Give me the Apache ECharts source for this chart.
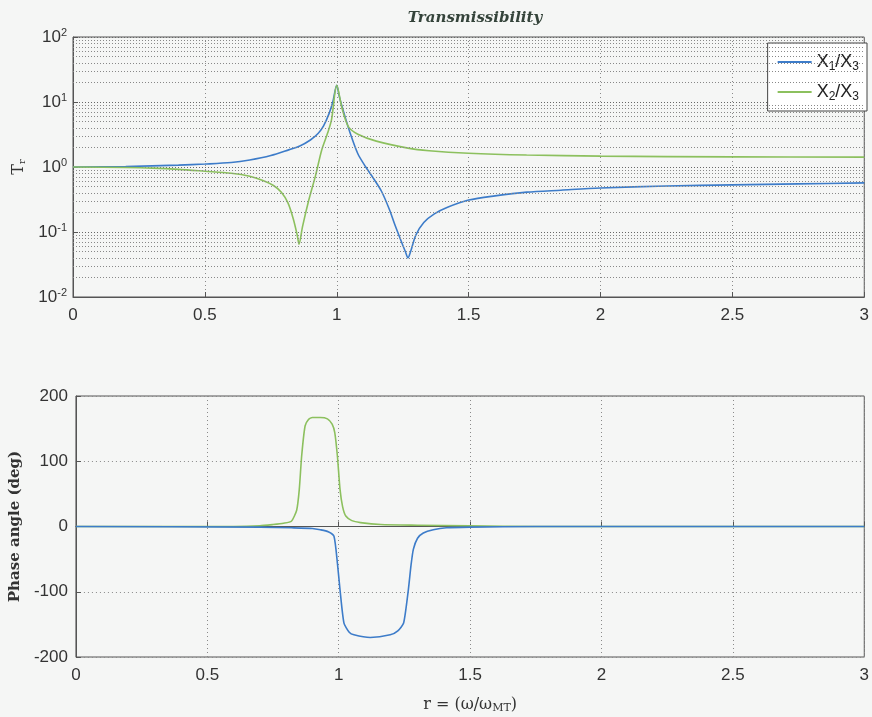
<!DOCTYPE html>
<html>
<head>
<meta charset="utf-8">
<script src="https://cdn.jsdelivr.net/npm/echarts@6/dist/echarts.min.js"></script>
<style>
  html, body { margin: 0; padding: 0; background: #f5f6f5; }
  #chart { width: 872px; height: 717px; }
</style>
</head>
<body>
<div id="chart"></div>
<script>
// magnitude (transmissibility)
const blueMagX = [0, 0.2, 0.4, 0.5, 0.6, 0.67, 0.75, 0.82, 0.86, 0.9, 0.93, 0.95, 0.97, 0.985, 1.0, 1.01, 1.02, 1.03, 1.05, 1.08, 1.11, 1.14, 1.17, 1.2, 1.22, 1.24, 1.26, 1.27, 1.28, 1.3, 1.33, 1.37, 1.42, 1.5, 1.6, 1.72, 1.85, 2.0, 2.25, 2.5, 2.75, 3.0];
const blueMagY = [1.0, 1.02, 1.07, 1.11, 1.17, 1.28, 1.5, 1.85, 2.1, 2.6, 3.3, 4.3, 6.5, 10, 18, 12, 8.5, 6.2, 3.4, 1.6, 1.0, 0.66, 0.42, 0.22, 0.13, 0.08, 0.05, 0.04, 0.05, 0.09, 0.14, 0.19, 0.24, 0.31, 0.36, 0.41, 0.44, 0.475, 0.51, 0.53, 0.55, 0.57];
const greenMagX = [0, 0.2, 0.3, 0.4, 0.5, 0.6, 0.67, 0.72, 0.76, 0.79, 0.815, 0.835, 0.85, 0.857, 0.87, 0.894, 0.92, 0.943, 0.965, 0.98, 1.0, 1.02, 1.045, 1.08, 1.15, 1.27, 1.35, 1.5, 1.72, 2.0, 2.5, 3.0];
const greenMagY = [1.0, 0.98, 0.96, 0.92, 0.86, 0.8, 0.72, 0.62, 0.52, 0.41, 0.28, 0.16, 0.09, 0.065, 0.12, 0.31, 0.75, 1.83, 3.3, 5.3, 18, 8, 4.1, 3.2, 2.5, 1.95, 1.78, 1.63, 1.53, 1.47, 1.43, 1.42];

// phase angle (deg)
const bluePhaseX = [0, 0.7, 0.82, 0.9, 0.93, 0.96, 0.982, 0.995, 1.005, 1.02, 1.04, 1.058, 1.12, 1.196, 1.225, 1.247, 1.265, 1.275, 1.284, 1.3, 1.322, 1.36, 1.41, 1.5, 1.75, 3.0];
const bluePhaseY = [0, -1, -2, -3, -5, -8, -15, -56, -97, -148, -162, -166, -170, -166, -160, -148, -97, -60, -35, -18, -10, -5, -2, -1, 0, 0];
const greenPhaseX = [0, 0.6, 0.7, 0.75, 0.79, 0.82, 0.84, 0.85, 0.859, 0.872, 0.885, 0.9, 0.93, 0.957, 0.975, 0.985, 0.995, 1.005, 1.015, 1.027, 1.05, 1.083, 1.16, 1.3, 1.5, 1.75, 3.0];
const greenPhaseY = [0, 0, 1, 3, 5, 8, 25, 57, 108, 154, 164, 167, 167, 165, 157, 144, 108, 57, 30, 16, 9, 6, 3, 2, 1, 0, 0];

const xTicks = [0, 0.5, 1, 1.5, 2, 2.5, 3];
const magDecades = [0.01, 0.1, 1, 10, 100];
const phaseTicks = [-200, -100, 0, 100, 200];

const blue = '#3d7cc9';
const green = '#8cc05e';
const axisColor = '#555';
const gridColor = '#8a8a8a';

function zip(xs, ys) {
    return xs.map((x, i) => [x, ys[i]]);
}

// minor log grid lines 2..9 x 10^k
const minorLines = [];
for (let k = 0; k < magDecades.length - 1; k++) {
    for (let m = 2; m <= 9; m++) {
        minorLines.push({ yAxis: +(magDecades[k] * m).toPrecision(3) });
    }
}

const labelStyle = { fontFamily: 'Liberation Sans', fontSize: 17, color: '#333' };

var myChart = echarts.init(document.getElementById('chart'));
var option = {
    backgroundColor: '#f5f6f5',
    animation: false,
    title: {
        text: 'Transmissibility',
        left: 470,
        top: 6,
        textAlign: 'center',
        textStyle: { fontFamily: 'DejaVu Serif', fontStyle: 'italic', fontWeight: 'bold', fontSize: 15, color: '#34433a' }
    },
    legend: {
        data: ['X1/X3', 'X2/X3'],
        orient: 'vertical',
        right: 5,
        top: 43,
        padding: [8, 8, 8, 10],
        itemWidth: 34,
        itemHeight: 2,
        itemGap: 8,
        icon: 'rect',
        backgroundColor: '#fff',
        borderColor: '#444',
        borderWidth: 1,
        formatter: function (name) {
            return name === 'X1/X3' ? 'X{s|1}/X{s|3}' : 'X{s|2}/X{s|3}';
        },
        textStyle: {
            fontFamily: 'Liberation Sans', fontSize: 18, color: '#222', lineHeight: 22,
            rich: { s: { fontFamily: 'Liberation Sans', fontSize: 12, color: '#222', lineHeight: 22, verticalAlign: 'bottom', padding: [6, 0, 0, 0] } }
        }
    },
    grid: [
        { left: 73, right: 5, top: 37, height: 260, show: true, borderColor: axisColor, borderWidth: 1, backgroundColor: 'transparent' },
        { left: 73, right: 5, top: 396, height: 261, show: true, borderColor: axisColor, borderWidth: 1, backgroundColor: 'transparent' }
    ],
    xAxis: [
        {
            type: 'value', gridIndex: 0, min: 0, max: 3, interval: 0.5,
            axisLine: { lineStyle: { color: axisColor } },
            axisTick: { inside: true, length: 5, lineStyle: { color: axisColor } },
            axisLabel: Object.assign({ margin: 10, formatter: v => String(v) }, labelStyle),
            splitLine: { show: true, lineStyle: { color: gridColor, type: [1, 3] } }
        },
        {
            type: 'value', gridIndex: 1, min: 0, max: 3, interval: 0.5,
            name: 'r = (ω/ω{s|MT})', nameLocation: 'middle', nameGap: 38,
            nameTextStyle: {
                fontFamily: 'DejaVu Serif', fontSize: 16, color: '#333',
                rich: { s: { fontFamily: 'DejaVu Serif', fontSize: 11, color: '#333', verticalAlign: 'bottom', padding: [8, 0, 0, 0] } }
            },
            axisLine: { lineStyle: { color: axisColor } },
            axisTick: { inside: true, length: 5, lineStyle: { color: axisColor } },
            axisLabel: Object.assign({ margin: 10, formatter: v => String(v) }, labelStyle),
            splitLine: { show: true, lineStyle: { color: gridColor, type: [1, 3] } }
        }
    ],
    yAxis: [
        {
            type: 'log', gridIndex: 0, logBase: 10, min: 0.01, max: 100,
            name: 'T{s|r}', nameLocation: 'middle', nameGap: 46, nameRotate: 90,
            nameTextStyle: {
                fontFamily: 'DejaVu Serif', fontSize: 16, color: '#333',
                rich: { s: { fontFamily: 'DejaVu Serif', fontSize: 10, color: '#333', verticalAlign: 'bottom', padding: [6, 0, 0, 0] } }
            },
            axisLine: { lineStyle: { color: axisColor } },
            axisTick: { inside: true, length: 5, lineStyle: { color: axisColor } },
            axisLabel: Object.assign({
                margin: 6,
                formatter: function (v) { return '10{e|' + Math.round(Math.log10(v)) + '}'; },
                rich: { e: { fontFamily: 'Liberation Sans', fontSize: 11, color: '#333', verticalAlign: 'top', padding: [0, 0, 9, 0] } }
            }, labelStyle),
            splitLine: { show: true, lineStyle: { color: '#666', type: [1, 2] } }
        },
        {
            type: 'value', gridIndex: 1, min: -200, max: 200, interval: 100,
            name: 'Phase angle (deg)', nameLocation: 'middle', nameGap: 50, nameRotate: 90,
            nameTextStyle: { fontFamily: 'DejaVu Serif', fontSize: 15, fontWeight: 'bold', color: '#333' },
            axisLine: { lineStyle: { color: axisColor } },
            axisTick: { inside: true, length: 5, lineStyle: { color: axisColor } },
            axisLabel: Object.assign({ margin: 8, formatter: v => String(v) }, labelStyle),
            splitLine: { show: true, lineStyle: { color: gridColor, type: [1, 3] } }
        }
    ],
    series: [
        {
            name: 'X1/X3', type: 'line', xAxisIndex: 0, yAxisIndex: 0,
            data: zip(blueMagX, blueMagY), showSymbol: false, smooth: 0.3,
            lineStyle: { color: blue, width: 1.6 }, itemStyle: { color: blue },
            z: 3,
            markLine: {
                silent: true, symbol: 'none', label: { show: false },
                lineStyle: { color: '#888', type: [1, 2], width: 1 },
                data: minorLines
            }
        },
        {
            name: 'X2/X3', type: 'line', xAxisIndex: 0, yAxisIndex: 0,
            data: zip(greenMagX, greenMagY), showSymbol: false, smooth: 0.3,
            lineStyle: { color: green, width: 1.6 }, itemStyle: { color: green },
            z: 4
        },
        {
            name: 'X2/X3', type: 'line', xAxisIndex: 1, yAxisIndex: 1,
            data: zip(greenPhaseX, greenPhaseY), showSymbol: false, smooth: 0.2,
            lineStyle: { color: green, width: 1.6 }, itemStyle: { color: green }
        },
        {
            name: 'X1/X3', type: 'line', xAxisIndex: 1, yAxisIndex: 1,
            data: zip(bluePhaseX, bluePhaseY), showSymbol: false, smooth: 0.2,
            lineStyle: { color: blue, width: 1.6 }, itemStyle: { color: blue }
        }
    ]
};
myChart.setOption(option);
window.addEventListener('resize', () => {
    myChart.resize();
});
</script>
</body>
</html>
